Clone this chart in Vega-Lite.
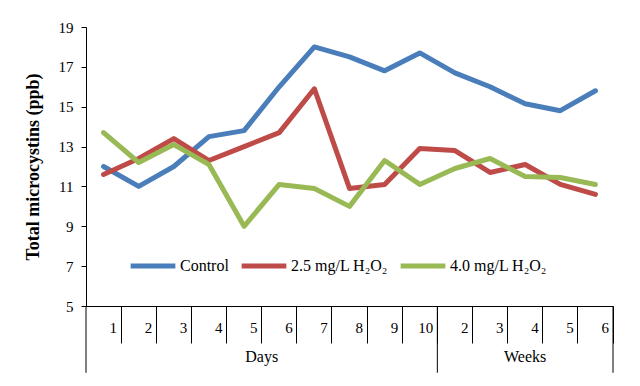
{
  "$schema": "https://vega.github.io/schema/vega-lite/v6.json",
  "autosize": "none",
  "width": 527,
  "height": 279,
  "padding": {"left": 86, "top": 27, "right": 27, "bottom": 80},
  "background": "white",
  "config": {
    "view": {"stroke": null},
    "font": "Liberation Serif"
  },
  "data": {
    "values": [
      {"t": "D1", "series": "Control", "value": 12.0},
      {"t": "D2", "series": "Control", "value": 11.0},
      {"t": "D3", "series": "Control", "value": 12.0},
      {"t": "D4", "series": "Control", "value": 13.5},
      {"t": "D5", "series": "Control", "value": 13.8},
      {"t": "D6", "series": "Control", "value": 16.0},
      {"t": "D7", "series": "Control", "value": 18.0},
      {"t": "D8", "series": "Control", "value": 17.5},
      {"t": "D9", "series": "Control", "value": 16.8},
      {"t": "D10", "series": "Control", "value": 17.7},
      {"t": "W2", "series": "Control", "value": 16.7},
      {"t": "W3", "series": "Control", "value": 16.0},
      {"t": "W4", "series": "Control", "value": 15.15},
      {"t": "W5", "series": "Control", "value": 14.8},
      {"t": "W6", "series": "Control", "value": 15.8},
      {"t": "D1", "series": "2.5 mg/L H₂O₂", "value": 11.6},
      {"t": "D2", "series": "2.5 mg/L H₂O₂", "value": 12.4},
      {"t": "D3", "series": "2.5 mg/L H₂O₂", "value": 13.4},
      {"t": "D4", "series": "2.5 mg/L H₂O₂", "value": 12.3},
      {"t": "D5", "series": "2.5 mg/L H₂O₂", "value": 13.0},
      {"t": "D6", "series": "2.5 mg/L H₂O₂", "value": 13.7},
      {"t": "D7", "series": "2.5 mg/L H₂O₂", "value": 15.9},
      {"t": "D8", "series": "2.5 mg/L H₂O₂", "value": 10.9},
      {"t": "D9", "series": "2.5 mg/L H₂O₂", "value": 11.1},
      {"t": "D10", "series": "2.5 mg/L H₂O₂", "value": 12.9},
      {"t": "W2", "series": "2.5 mg/L H₂O₂", "value": 12.8},
      {"t": "W3", "series": "2.5 mg/L H₂O₂", "value": 11.7},
      {"t": "W4", "series": "2.5 mg/L H₂O₂", "value": 12.1},
      {"t": "W5", "series": "2.5 mg/L H₂O₂", "value": 11.1},
      {"t": "W6", "series": "2.5 mg/L H₂O₂", "value": 10.6},
      {"t": "D1", "series": "4.0 mg/L H₂O₂", "value": 13.7},
      {"t": "D2", "series": "4.0 mg/L H₂O₂", "value": 12.2},
      {"t": "D3", "series": "4.0 mg/L H₂O₂", "value": 13.1},
      {"t": "D4", "series": "4.0 mg/L H₂O₂", "value": 12.1},
      {"t": "D5", "series": "4.0 mg/L H₂O₂", "value": 9.0},
      {"t": "D6", "series": "4.0 mg/L H₂O₂", "value": 11.1},
      {"t": "D7", "series": "4.0 mg/L H₂O₂", "value": 10.9},
      {"t": "D8", "series": "4.0 mg/L H₂O₂", "value": 10.0},
      {"t": "D9", "series": "4.0 mg/L H₂O₂", "value": 12.3},
      {"t": "D10", "series": "4.0 mg/L H₂O₂", "value": 11.1},
      {"t": "W2", "series": "4.0 mg/L H₂O₂", "value": 11.9},
      {"t": "W3", "series": "4.0 mg/L H₂O₂", "value": 12.4},
      {"t": "W4", "series": "4.0 mg/L H₂O₂", "value": 11.5},
      {"t": "W5", "series": "4.0 mg/L H₂O₂", "value": 11.45},
      {"t": "W6", "series": "4.0 mg/L H₂O₂", "value": 11.1}
    ]
  },
  "layer": [
    {
      "mark": {"type": "line", "strokeWidth": 5, "strokeCap": "round", "strokeJoin": "round"},
      "encoding": {
        "x": {
          "field": "t",
          "type": "nominal",
          "scale": {
            "domain": ["D1","D2","D3","D4","D5","D6","D7","D8","D9","D10","W2","W3","W4","W5","W6"],
            "paddingInner": 0, "paddingOuter": 0
          },
          "axis": {
            "title": null,
            "bandPosition": 1,
            "labelExpr": "substring(datum.label, 1)",
            "labelAngle": 0,
            "labelAlign": "right",
            "labelBaseline": "middle",
            "labelOffset": 13.5,
            "labelPadding": -16,
            "labelFontSize": 15,
            "labelColor": "#000",
            "labelOverlap": false,
            "tickSize": 37,
            "tickColor": "#000",
            "domainColor": "#000",
            "labelFont": "Liberation Serif"
          }
        },
        "y": {
          "field": "value",
          "type": "quantitative",
          "scale": {"domain": [5, 19], "nice": false},
          "axis": {
            "title": "Total microcystins (ppb)",
            "titleFont": "Liberation Serif",
            "titleFontSize": 18,
            "titleFontWeight": "bold",
            "titleColor": "#000",
            "titlePadding": 16,
            "values": [5, 7, 9, 11, 13, 15, 17, 19],
            "tickCount": 8,
            "labelOverlap": false,
            "labelFlush": false,
            "grid": false,
            "tickSize": 5,
            "tickColor": "#000",
            "domainColor": "#000",
            "labelFontSize": 15,
            "labelColor": "#000",
            "labelPadding": 8,
            "labelFont": "Liberation Serif"
          }
        },
        "color": {
          "field": "series",
          "type": "nominal",
          "scale": {
            "domain": ["Control", "2.5 mg/L H₂O₂", "4.0 mg/L H₂O₂"],
            "range": ["#4a7ebb", "#be4b48", "#98b954"]
          },
          "legend": {
            "title": null,
            "orient": "none",
            "legendX": 42,
            "legendY": 214,
            "direction": "horizontal",
            "symbolType": "stroke",
            "symbolStrokeWidth": 5,
            "symbolSize": 2000,
            "labelFontSize": 16,
            "labelFont": "Liberation Serif",
            "labelColor": "#000",
            "labelOffset": 2,
            "columnPadding": 2,
            "labelLimit": 300
          }
        }
      }
    },
    {
      "data": {"values": [{"k": "D1"}]},
      "mark": {"type": "rule", "color": "#000", "strokeWidth": 1},
      "encoding": {
        "x": {"field": "k", "type": "nominal", "bandPosition": 0},
        "y": {"datum": 5, "type": "quantitative"},
        "y2": {"datum": 1.65}
      }
    },
    {
      "data": {"values": [{"k": "D10"}, {"k": "W6"}]},
      "mark": {"type": "rule", "color": "#000", "strokeWidth": 1},
      "encoding": {
        "x": {"field": "k", "type": "nominal", "bandPosition": 1},
        "y": {"datum": 5, "type": "quantitative"},
        "y2": {"datum": 1.65}
      }
    },
    {
      "data": {"values": [{"k": "D5", "g": "Days"}]},
      "mark": {"type": "text", "fontSize": 16, "font": "Liberation Serif", "color": "#000", "baseline": "middle"},
      "encoding": {
        "x": {"field": "k", "type": "nominal", "bandPosition": 1},
        "y": {"datum": 2.45, "type": "quantitative"},
        "text": {"field": "g"}
      }
    },
    {
      "data": {"values": [{"k": "W4", "g": "Weeks"}]},
      "mark": {"type": "text", "fontSize": 16, "font": "Liberation Serif", "color": "#000", "baseline": "middle"},
      "encoding": {
        "x": {"field": "k", "type": "nominal", "bandPosition": 0.5},
        "y": {"datum": 2.45, "type": "quantitative"},
        "text": {"field": "g"}
      }
    }
  ]
}
